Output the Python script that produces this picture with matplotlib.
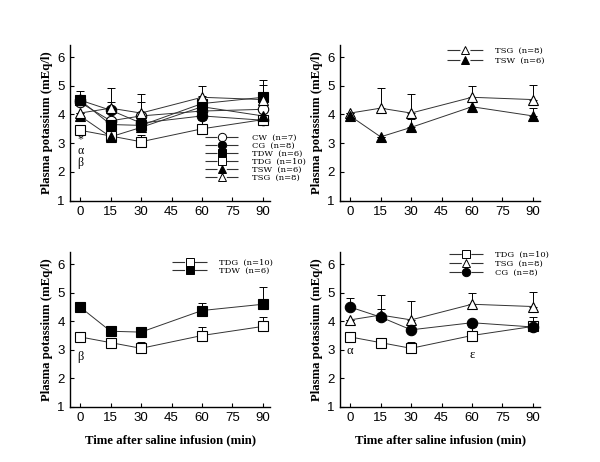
import matplotlib
matplotlib.use("Agg")
import matplotlib.pyplot as plt
import numpy as np
from matplotlib.lines import Line2D

plt.rcParams['lines.scale_dashes'] = False

time = [0, 15, 30, 60, 90]
x_ticks = [0, 15, 30, 45, 60, 75, 90]
y_ticks = [1, 2, 3, 4, 5, 6]

# means and upper error bar tops
cw = [4.42, 3.78, 3.95, 4.12, 4.18]
cw_top = [4.65, 3.78, 4.45, 4.12, 4.18]
cg = [4.5, 4.15, 3.7, 3.95, 3.8]
cg_top = [4.83, 4.42, 3.7, 3.95, 3.97]
tdw = [4.5, 3.65, 3.62, 4.38, 4.6]
tdw_top = [4.5, 3.85, 3.62, 4.65, 5.2]
tdg = [3.45, 3.25, 3.05, 3.5, 3.82]
tdg_top = [3.45, 3.25, 3.27, 3.8, 4.15]
tsw = [3.95, 3.22, 3.55, 4.27, 3.95]
tsw_top = [3.95, 3.22, 3.85, 4.27, 4.22]
tsg = [4.05, 4.22, 4.05, 4.6, 4.52]
tsg_top = [4.05, 4.93, 4.73, 5.0, 5.02]

groups = {
    'CW': (cw, cw_top, 'o', 'white', 'CW  (n=7)'),
    'CG': (cg, cg_top, 'o', 'black', 'CG  (n=8)'),
    'TDW': (tdw, tdw_top, 's', 'black', 'TDW  (n=6)'),
    'TDG': (tdg, tdg_top, 's', 'white', 'TDG  (n=10)'),
    'TSW': (tsw, tsw_top, '^', 'black', 'TSW  (n=6)'),
    'TSG': (tsg, tsg_top, '^', 'white', 'TSG  (n=8)'),
}

fig = plt.figure(figsize=(6, 4.62), dpi=100)

serif = 'Liberation Serif'
sans = 'Liberation Sans'


def make_axes(rect, xlabel):
    ax = fig.add_axes(rect)
    ax.set_xlim(-4.9, 93.5)
    ax.set_ylim(1, 6.43)
    ax.spines['top'].set_visible(False)
    ax.spines['right'].set_visible(False)
    ax.spines['left'].set_linewidth(1.0)
    ax.spines['bottom'].set_linewidth(1.0)
    ax.set_xticks(x_ticks)
    ax.set_yticks(y_ticks)
    ax.tick_params(direction='in', length=3, width=0.8, labelsize=9.5, pad=4)
    for lab in ax.get_xticklabels() + ax.get_yticklabels():
        lab.set_family(sans)
    ax.set_ylabel('Plasma potassium (mEq/l)', family=serif, fontweight='bold',
                  fontsize=9.2, labelpad=3)
    if xlabel:
        ax.set_xlabel('Time after saline infusion (min)', family=serif,
                      fontweight='bold', fontsize=9.2, labelpad=7)
    return ax


def draw(ax, names):
    for name in names:
        y, top, mk, fc, label = groups[name]
        y = np.array(y)
        up = np.array(top) - y
        ax.errorbar(time, y, yerr=[np.zeros_like(up), up], fmt='none',
                    ecolor='black', elinewidth=0.7, capsize=3, capthick=0.7,
                    zorder=2)
        ax.plot(time, y, color='#333333', lw=0.7, zorder=3)
        ax.plot(time, y, ls='none', marker=mk, ms=7.5, mfc=fc, mec='black',
                mew=0.8, zorder=4)


def legend(ax, names, anchor, spacing, hl=4.0, pad=1.6):
    fs = 6
    handles = []
    for name in names:
        y, top, mk, fc, label = groups[name]
        h = Line2D([], [], color='#333333', lw=0.8, marker=mk, ms=6,
                   mfc=fc, mec='black', mew=0.7,
                   dashes=(hl * fs * 0.36, hl * fs * 0.28), label=label)
        handles.append(h)
    ax.legend(handles=handles, loc='upper left', bbox_to_anchor=anchor,
              frameon=False, borderpad=0, borderaxespad=0,
              handlelength=hl, handletextpad=pad, labelspacing=spacing,
              prop={'family': 'DejaVu Serif', 'size': fs})


# top left
ax1 = make_axes([0.117, 0.566, 0.333, 0.337], False)
draw(ax1, ['CW', 'CG', 'TDW', 'TDG', 'TSW', 'TSG'])
legend(ax1, ['CW', 'CG', 'TDW', 'TDG', 'TSW', 'TSG'], (0.675, 0.426), 0.0)
ax1.text(0, 2.72, '*\nα\nβ', family=serif, fontsize=8.5, ha='center',
         va='center', linespacing=0.95)

# top right
ax2 = make_axes([0.567, 0.566, 0.333, 0.337], False)
draw(ax2, ['TSG', 'TSW'])
legend(ax2, ['TSG', 'TSW'], (0.535, 0.984), 0.17, hl=4.3, pad=1.4)

# bottom left
ax3 = make_axes([0.117, 0.12, 0.333, 0.334], True)
draw(ax3, ['TDG', 'TDW'])
legend(ax3, ['TDG', 'TDW'], (0.51, 0.96), 0.0, hl=4.2, pad=1.4)
ax3.text(0, 2.75, 'β', family=serif, fontsize=9, ha='center', va='center')

# bottom right
ax4 = make_axes([0.567, 0.12, 0.333, 0.334], True)
draw(ax4, ['TDG', 'TSG', 'CG'])
legend(ax4, ['TDG', 'TSG', 'CG'], (0.545, 1.008), 0.12, hl=4.1, pad=1.4)
ax4.text(0, 2.94, 'α', family=serif, fontsize=9, ha='center', va='center')
ax4.text(60, 2.83, 'ε', family=serif, fontsize=9, ha='center', va='center')

fig.savefig('out.png', dpi=100)
